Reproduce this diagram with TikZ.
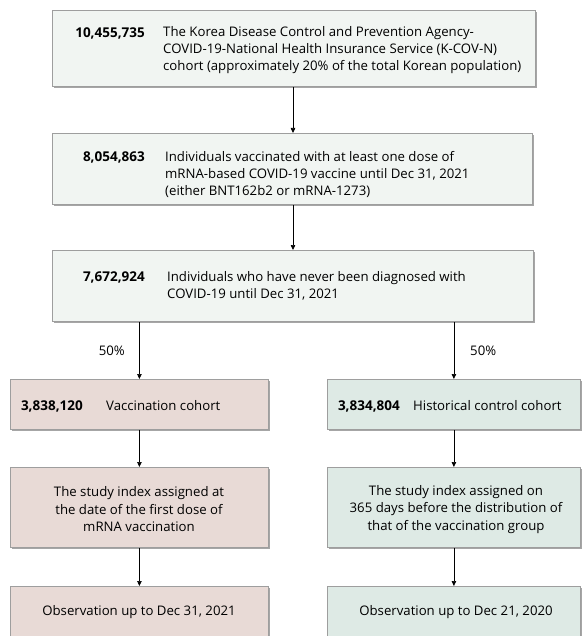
\documentclass[tikz,border=0pt]{standalone}
\usepackage{fontspec}
\setmainfont{Open Sans}
\usetikzlibrary{shadows,arrows.meta}
\definecolor{topfill}{HTML}{F1F5F2}
\definecolor{leftfill}{HTML}{E8DAD6}
\definecolor{rightfill}{HTML}{DEEAE5}
\definecolor{edge}{HTML}{9E9E9E}
\tikzset{
  box/.style={draw=edge, line width=0.8pt, anchor=north west, inner sep=0pt,
    drop shadow={shadow xshift=1.6pt, shadow yshift=-1.6pt, fill=black!35, opacity=1}},
  topbox/.style={box, fill=topfill},
  lbox/.style={box, fill=leftfill},
  rbox/.style={box, fill=rightfill},
  num/.style={font=\fontsize{13.5}{17}\selectfont\bfseries, anchor=east, inner sep=0pt},
  txt/.style={font=\fontsize{13.2}{17}\selectfont, anchor=west, align=left, inner sep=0pt},
  ctxt/.style={font=\fontsize{13.2}{17.5}\selectfont, align=center, inner sep=0pt},
  lbl/.style={font=\fontsize{13.2}{17}\selectfont, inner sep=0pt},
  arr/.style={-{Triangle[length=5pt,width=4.5pt]}, line width=0.7pt, black},
}
\begin{document}
\begin{tikzpicture}[x=1pt,y=-1pt]
\useasboundingbox (0,0) rectangle (582,636);
% top boxes
\node[topbox, minimum width=483, minimum height=76] (b1) at (52,10) {};
\node[topbox, minimum width=480, minimum height=71] (b2) at (52,133) {};
\node[topbox, minimum width=481, minimum height=71] (b3) at (52,250) {};
% left column
\node[lbox, minimum width=258, minimum height=50] (l1) at (10,379) {};
\node[lbox, minimum width=258, minimum height=80] (l2) at (10,467) {};
\node[lbox, minimum width=258, minimum height=52] (l3) at (10,586) {};
% right column
\node[rbox, minimum width=253, minimum height=50] (r1) at (327,379) {};
\node[rbox, minimum width=253, minimum height=80] (r2) at (327,467) {};
\node[rbox, minimum width=253, minimum height=52] (r3) at (327,586) {};
% texts
\node[num] (n1) at (145,33) {10,455,735};
\node[txt] (t1) at (163,50) {The Korea Disease Control and Prevention Agency-\\COVID-19-National Health Insurance Service (K-COV-N)\\cohort (approximately 20\% of the total Korean population)};
\node[num] (n2) at (145,157) {8,054,863};
\node[txt] (t2) at (165,174) {Individuals vaccinated with at least one dose of\\mRNA-based COVID-19 vaccine until Dec 31, 2021\\(either BNT162b2 or mRNA-1273)};
\node[num] (n3) at (145,277) {7,672,924};
\node[txt] (t3) at (167,285.5) {Individuals who have never been diagnosed with\\COVID-19 until Dec 31, 2021};
\node[num] (n4) at (83,406) {3,838,120};
\node[txt] (t4) at (106,406) {Vaccination cohort};
\node[num] (n5) at (400,406) {3,834,804};
\node[txt] (t5) at (413,406) {Historical control cohort};
\node[ctxt] (t6) at (139,509.5) {The study index assigned at\\the date of the first dose of\\mRNA vaccination};
\node[ctxt] (t7) at (456,509.5) {The study index assigned on\\365 days before the distribution of\\that of the vaccination group};
\node[ctxt] (t8) at (139,612) {Observation up to Dec 31, 2021};
\node[ctxt] (t9) at (456,612) {Observation up to Dec 21, 2020};
% connectors
\draw[arr] (b1.south -| 293,0) -- (b2.north -| 293,0);
\draw[arr] (b2.south -| 293,0) -- (b3.north -| 293,0);
\draw[arr] (b3.south -| l1.north) -- (l1.north);
\draw[arr] (b3.south -| r1.north) -- (r1.north);
\node[lbl, anchor=east] (p1) at (125,351) {50\%};
\node[lbl, anchor=west] (p2) at (470,351) {50\%};
\draw[arr] (l1) -- (l2);
\draw[arr] (l2) -- (l3);
\draw[arr] (r1) -- (r2);
\draw[arr] (r2) -- (r3);
\end{tikzpicture}
\end{document}
